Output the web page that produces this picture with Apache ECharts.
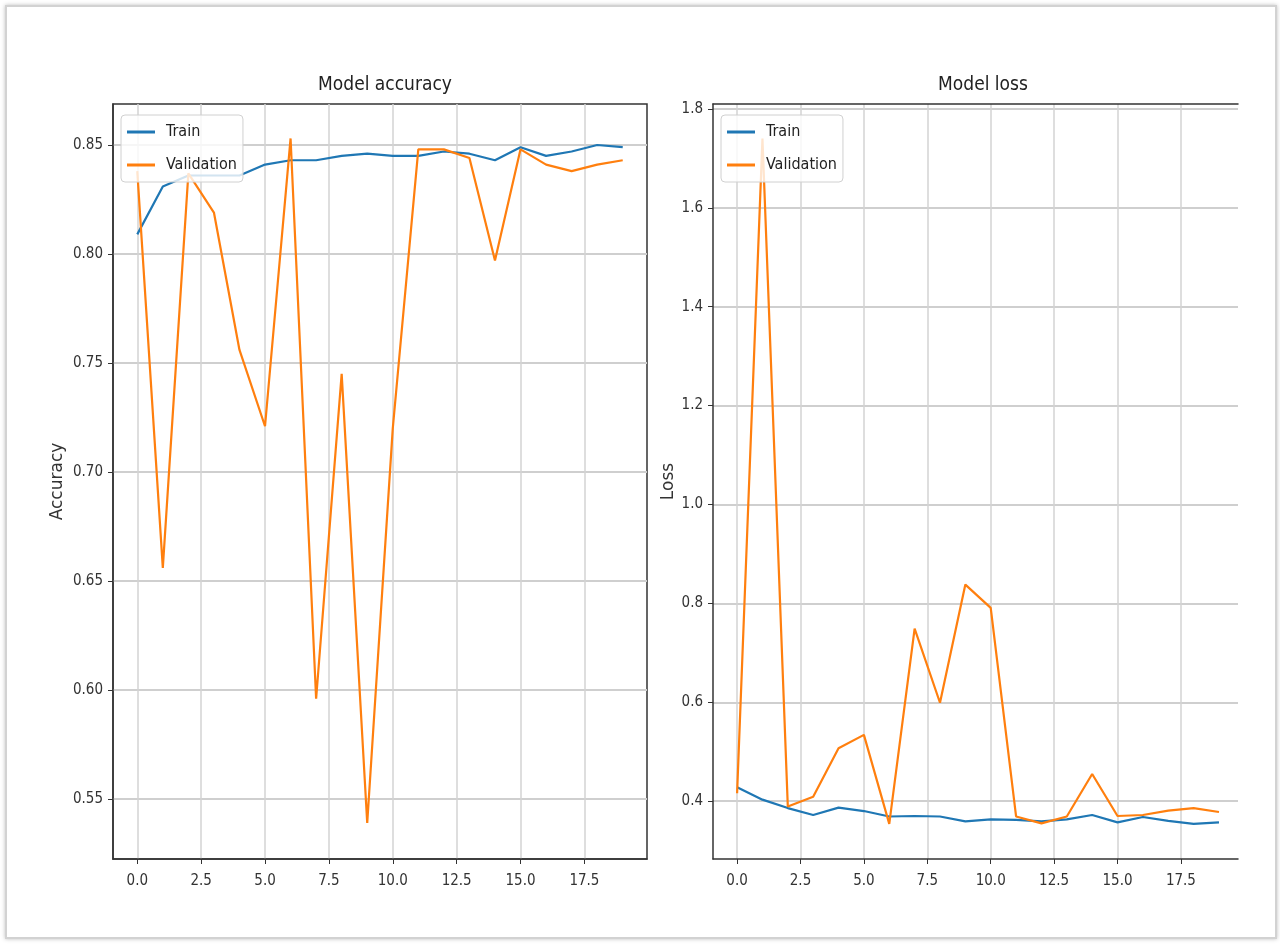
<!DOCTYPE html>
<html><head><meta charset="utf-8">
<script src="https://cdn.jsdelivr.net/npm/echarts@6/dist/echarts.min.js"></script>
<style>
html,body{margin:0;padding:0;background:#fff;}
#frame{position:absolute;left:5px;top:5px;width:1272px;height:934px;border:2px solid #d2d2d2;box-shadow:0 0 4px rgba(0,0,0,0.25);box-sizing:border-box;}
#chart{position:absolute;left:0;top:0;width:1280px;height:944px;}
</style></head>
<body><div id="frame"></div><div id="chart"></div>
<script>
// ---- data ----
const epochs = [0,1,2,3,4,5,6,7,8,9,10,11,12,13,14,15,16,17,18,19];
const accTrain = [0.809,0.831,0.836,0.836,0.836,0.841,0.843,0.843,0.845,0.846,0.845,0.845,0.847,0.846,0.843,0.849,0.845,0.847,0.850,0.849];
const accVal   = [0.838,0.656,0.837,0.819,0.756,0.721,0.853,0.596,0.745,0.539,0.720,0.848,0.848,0.844,0.797,0.848,0.841,0.838,0.841,0.843];
const lossTrain = [0.428,0.403,0.386,0.372,0.387,0.380,0.369,0.370,0.369,0.359,0.363,0.362,0.359,0.363,0.372,0.357,0.368,0.360,0.354,0.357];
const lossVal   = [0.416,1.740,0.389,0.409,0.507,0.534,0.354,0.749,0.599,0.838,0.791,0.369,0.355,0.369,0.455,0.370,0.372,0.381,0.386,0.378];
const xTicks = [0,2.5,5,7.5,10,12.5,15,17.5];
const accTicks = [0.55,0.60,0.65,0.70,0.75,0.80,0.85];
const lossTicks = [0.4,0.6,0.8,1.0,1.2,1.4,1.6,1.8];
const seriesNames = ['Train','Validation'];
const titles = ['Model accuracy','Model loss'];
const yNames = ['Accuracy','Loss'];

// ---- chart ----
const FONT = '"DejaVu Sans Condensed","DejaVu Sans",sans-serif';
const BLUE = '#1f77b4', ORANGE = '#ff7f0e', AX = '#333333';
const pairs = arr => arr.map((v,i)=>[epochs[i], v]);

function xAxisCfg(grid, max){
  return {
    type:'value', gridIndex:grid, min:-0.95, max:max,
    axisLine:{show:true,onZero:false,lineStyle:{color:AX,width:1.5}},
    axisTick:{show:true,customValues:xTicks,length:5,lineStyle:{color:AX,width:1}},
    axisLabel:{customValues:xTicks,formatter:v=>v.toFixed(1),fontSize:15,color:'#333',fontFamily:FONT,margin:15},
    splitLine:{show:true,lineStyle:{color:'#d3d3d3',width:1.5}}
  };
}
function yAxisCfg(grid, min, max, ticks, dec, name, gap){
  return {
    type:'value', gridIndex:grid, min:min, max:max,
    name:name, nameLocation:'middle', nameGap:gap, nameRotate:90,
    nameTextStyle:{fontSize:17,color:'#333',fontFamily:'"DejaVu Sans",sans-serif'},
    axisLine:{show:true,onZero:false,lineStyle:{color:AX,width:1.5}},
    axisTick:{show:true,customValues:ticks,length:5,lineStyle:{color:AX,width:1}},
    axisLabel:{customValues:ticks,formatter:v=>v.toFixed(dec),fontSize:15,color:'#333',fontFamily:FONT,margin:10},
    splitLine:{show:true,lineStyle:{color:'#cfcfcf',width:2}}
  };
}
function legendCfg(left){
  return {
    left:left, top:115, orient:'vertical', data:seriesNames, icon:'rect',
    itemWidth:28, itemHeight:3, itemGap:17, padding:[9,6,9,6],
    backgroundColor:'rgba(255,255,255,0.8)', borderColor:'#d0d0d0', borderWidth:1, borderRadius:4,
    textStyle:{fontSize:16,fontFamily:FONT,color:'#222',padding:[0,0,0,6]},
    selectedMode:false
  };
}
function lineSeries(name, data, x, y, color){
  return {type:'line', name:name, data:pairs(data), xAxisIndex:x, yAxisIndex:y,
    showSymbol:false, symbol:'none', lineStyle:{width:2.2,color:color}, itemStyle:{color:color}, z:2};
}

const option = {
  animation:false,
  title:[
    {text:titles[0], left:380, top:71, textAlign:'center', textStyle:{fontSize:19,fontWeight:'normal',color:'#222',fontFamily:FONT}},
    {text:titles[1], left:978, top:71, textAlign:'center', textStyle:{fontSize:19,fontWeight:'normal',color:'#222',fontFamily:FONT}}
  ],
  legend:[legendCfg(121), legendCfg(721)],
  grid:[
    {left:113, top:104, width:534, height:755, show:true, borderColor:AX, borderWidth:1.5},
    {left:713, top:104, width:525, height:755}
  ],
  xAxis:[
    xAxisCfg(0, 19.95),
    xAxisCfg(1, 19.75),
    {type:'value', gridIndex:1, position:'top', min:-0.95, max:19.75,
     axisLine:{show:true,onZero:false,lineStyle:{color:AX,width:1.5}},
     axisTick:{show:false}, axisLabel:{show:false}, splitLine:{show:false}}
  ],
  yAxis:[
    yAxisCfg(0, 0.5225, 0.8688, accTicks, 2, yNames[0], 47),
    yAxisCfg(1, 0.283, 1.81, lossTicks, 1, yNames[1], 36)
  ],
  series:[
    lineSeries(seriesNames[0], accTrain, 0, 0, BLUE),
    lineSeries(seriesNames[1], accVal, 0, 0, ORANGE),
    lineSeries(seriesNames[0], lossTrain, 1, 1, BLUE),
    lineSeries(seriesNames[1], lossVal, 1, 1, ORANGE)
  ]
};
const chart = echarts.init(document.getElementById('chart'), null, {renderer:'canvas'});
chart.setOption(option);
</script>
</body></html>
